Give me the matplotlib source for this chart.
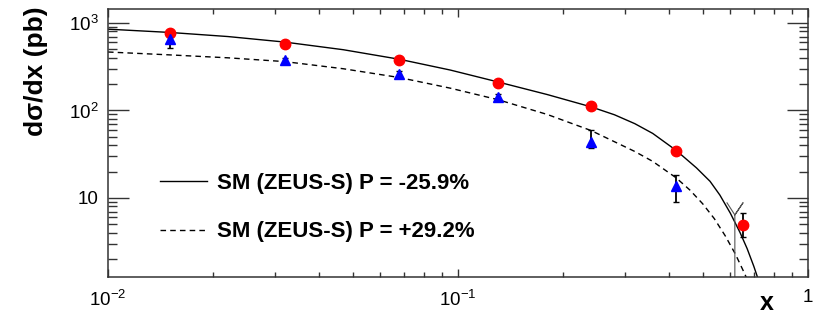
import matplotlib
matplotlib.use("Agg")
import matplotlib.pyplot as plt
from matplotlib.ticker import FixedLocator, FixedFormatter, LogLocator, NullFormatter

plt.rcParams['font.family'] = ['Liberation Sans', 'DejaVu Sans']
plt.rcParams['mathtext.default'] = 'regular'

# measured cross sections, P = -25.9% (red) and P = +29.2% (blue)
x_neg = [0.015, 0.032, 0.068, 0.13, 0.24, 0.42, 0.652]
xsec_neg = [774, 575, 378, 206, 113, 34.4, 4.9]
err_neg_lo = [15, 12, 9, 5, 3, 1.5, 1.3]
err_neg_hi = [15, 12, 9, 5, 3, 1.5, 1.8]

x_pos = [0.015, 0.032, 0.068, 0.13, 0.24, 0.42]
xsec_pos = [656, 378, 261, 143, 43.6, 13.7]
err_pos_lo = [138, 25, 18, 10, 6.3, 4.7]
err_pos_hi = [133, 25, 18, 10, 16, 4.6]

# SM predictions (ZEUS-S PDFs)
sm_x_neg = [0.01, 0.015, 0.022, 0.032, 0.047, 0.068, 0.095, 0.13, 0.18, 0.24,
            0.28, 0.32, 0.36, 0.42, 0.48, 0.525, 0.56, 0.6, 0.64, 0.67,
            0.70, 0.72, 0.74]
sm_neg = [850, 780, 700, 605, 495, 385, 290, 212, 152, 110,
          89.3, 70.7, 54.7, 35, 22.1, 15.5, 10.8, 6.7, 4.0, 2.64,
          1.66, 1.19, 0.83]

sm_x_pos = [0.01, 0.015, 0.022, 0.032, 0.047, 0.068, 0.095, 0.13, 0.18, 0.24,
            0.32, 0.36, 0.42, 0.46, 0.5, 0.54, 0.58, 0.62, 0.66, 0.69]
sm_pos = [466, 432, 400, 362, 300, 238, 180, 133, 90, 59,
          34, 26.2, 17.0, 12.3, 8.6, 5.8, 3.7, 2.29, 1.35, 0.89]

# last-bin edge marker
edge_x = [0.587, 0.618, 0.652, 0.618, 0.618]
edge_y = [8.8, 6.4, 8.8, 6.4, 1.0]

label_neg = 'SM (ZEUS-S) P = -25.9%'
label_pos = 'SM (ZEUS-S) P = +29.2%'

fig = plt.figure(figsize=(8.18, 3.2), dpi=100)
ax = fig.add_axes([108 / 818, 1 - 277 / 320, 700 / 818, 268 / 320])

line_neg, = ax.plot(sm_x_neg, sm_neg, color='black', lw=1.0, label=label_neg)
line_pos, = ax.plot(sm_x_pos, sm_pos, color='black', lw=1.0, ls=(0, (4, 3)),
                    label=label_pos)
ax.plot(edge_x, edge_y, color='#555555', lw=0.8)

ax.errorbar(x_neg, xsec_neg, yerr=[err_neg_lo, err_neg_hi], fmt='o', color='red',
            ms=7.5, ecolor='black', elinewidth=1.3, capsize=2, zorder=5)
ax.errorbar(x_pos, xsec_pos, yerr=[err_pos_lo, err_pos_hi], fmt='^', color='blue',
            ms=7.5, ecolor='black', elinewidth=1.3, capsize=2, zorder=5)

ax.set_xscale('log')
ax.set_yscale('log')
ax.set_xlim(0.01, 1)
ax.set_ylim(1.25, 1445)

ax.xaxis.set_major_locator(FixedLocator([0.01, 0.1, 1]))
ax.xaxis.set_major_formatter(FixedFormatter(['$10^{-2}$', '$10^{-1}$', '1']))
ax.yaxis.set_major_locator(FixedLocator([10, 100, 1000]))
ax.yaxis.set_major_formatter(FixedFormatter(['10', '$10^{2}$', '$10^{3}$']))
for axis in (ax.xaxis, ax.yaxis):
    axis.set_minor_locator(LogLocator(base=10, subs=range(2, 10), numticks=20))
    axis.set_minor_formatter(NullFormatter())

ax.tick_params(which='both', direction='in', top=True, right=True,
               color='#333333', width=1, labelsize=13.5)
ax.tick_params(axis='y', which='major', length=15, pad=7)
ax.tick_params(axis='y', which='minor', length=6.5)
ax.tick_params(axis='x', which='major', length=6, pad=9)
ax.tick_params(axis='x', which='minor', length=3.5)
for sp in ax.spines.values():
    sp.set_color('#333333')
    sp.set_linewidth(1.1)

fig.text(36 / 818, 1 - 6 / 320, 'd\u03c3/dx (pb)', rotation=90, ha='center', va='top',
         fontsize=19, fontweight='bold')
ax.set_xlabel('x', fontsize=18, fontweight='bold')
ax.xaxis.set_label_coords((767 - 108) / 700, -0.052)

ax.legend(handles=[line_neg, line_pos], loc='upper left',
          bbox_to_anchor=((160 - 108) / 700, (277 - 173) / 268),
          frameon=False, borderpad=0, borderaxespad=0, handlelength=2.1,
          handletextpad=0.45, labelspacing=1.23,
          prop={'size': 16, 'weight': 'bold'})

fig.savefig('out.png', dpi=100)
